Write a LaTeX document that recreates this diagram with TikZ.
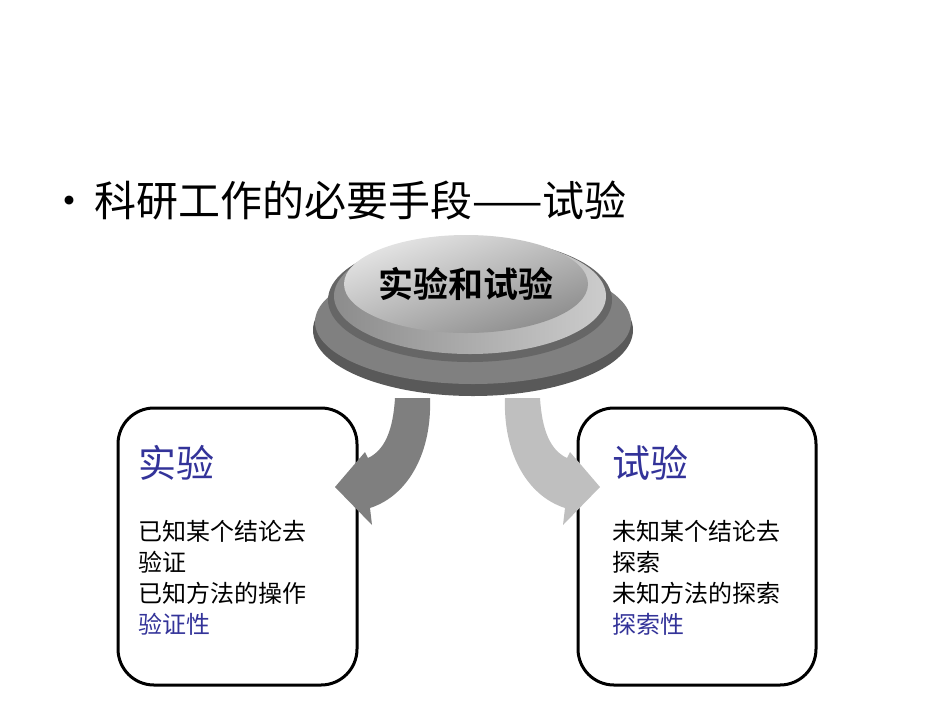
\documentclass[tikz,border=0pt]{standalone}
\usepackage{fontspec}
\newfontfamily\cjk{Noto Sans CJK SC}
\newfontfamily\cjkb{Noto Sans CJK SC Bold}
\usetikzlibrary{shadings}
\definecolor{ttl}{HTML}{333399}
\definecolor{darr}{HTML}{7F7F7F}
\definecolor{larr}{HTML}{BFBFBF}
\tikzset{box/.style={draw=black,line width=3pt,rounded corners=36pt},
 body/.style={anchor=north west,align=left,font=\cjk\fontsize{24}{31}\selectfont,inner sep=0pt},
 head/.style={anchor=west,text=ttl,font=\cjk\fontsize{38}{40}\selectfont,inner sep=0pt}}
\begin{document}
\begin{tikzpicture}[x=1pt,y=-1pt]
\useasboundingbox (0,0) rectangle (950,713);
\node[anchor=west,inner sep=0pt,font=\cjk\fontsize{42}{46}\selectfont] (t) at (48,200) {•\hspace{4pt}科研工作的必要手段——试验};
% disc
\fill[black!65] (473,330) ellipse [x radius=160,y radius=66];
\fill[black!50] (473,322) ellipse [x radius=158,y radius=62];
\fill[black!60] (470,300) ellipse [x radius=142,y radius=62];
\shade[left color=black!45,right color=black!20] (470,296) ellipse [x radius=136,y radius=58];
\shade[top color=black!10,bottom color=black!45,shading angle=20] (466,284) ellipse [x radius=122,y radius=49];
\node[font=\cjkb\fontsize{35}{37}\selectfont,inner sep=0pt] (c) at (466,284) {实验和试验};
% boxes
\draw[box] (118,408) rectangle (357,685);
\draw[box] (578,408) rectangle (816,685);
% arrows
\fill[darr] (395,398) .. controls (393,430) and (385,450) .. (368,458) -- (365,452) -- (335,487) -- (372,525) -- (370,508) .. controls (410,495) and (432,450) .. (430,398) -- cycle;
\fill[larr] (540,398) .. controls (542,430) and (550,450) .. (567,458) -- (570,452) -- (600,487) -- (563,525) -- (565,508) .. controls (525,495) and (503,450) .. (505,398) -- cycle;
% texts
\node[head] (h1) at (138,463) {实验};
\node[body] (b1) at (138,520) {已知某个结论去\\验证\\已知方法的操作\\\textcolor{ttl}{验证性}};
\node[head] (h2) at (612,463) {试验};
\node[body] (b2) at (612,520) {未知某个结论去\\探索\\未知方法的探索\\\textcolor{ttl}{探索性}};
\end{tikzpicture}
\end{document}
